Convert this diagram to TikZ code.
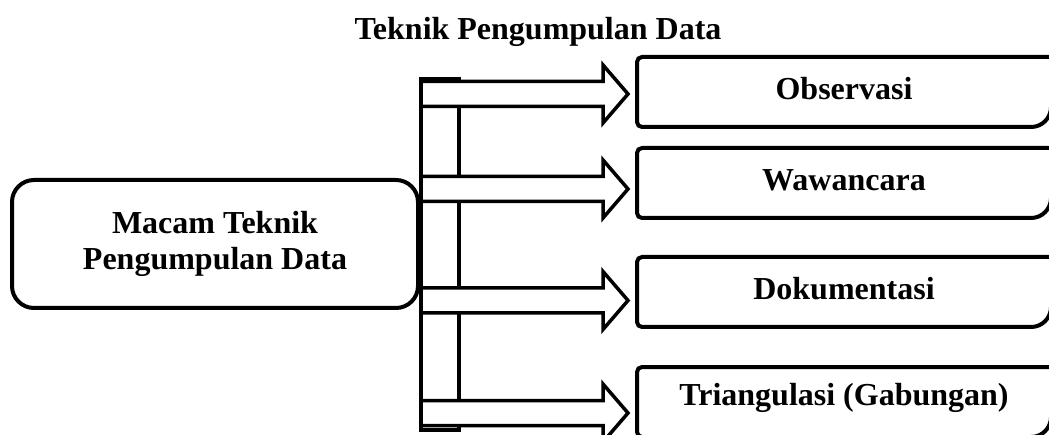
\documentclass[tikz,border=0pt]{standalone}
\usepackage{fontspec}
\setmainfont{Liberation Serif}
\begin{document}
\begin{tikzpicture}[x=1pt, y=-1pt,
  every node/.style={font=\fontsize{32}{36}\selectfont\bfseries},
  frame/.style={line width=4pt},
  srcbox/.style={draw, line width=4pt, rounded corners=22pt, minimum width=406pt,
    minimum height=128pt, inner sep=0pt, outer sep=0pt, align=center},
  spine/.style={draw, line width=4pt, anchor=north west, minimum width=38pt,
    minimum height=351pt, inner sep=0pt, outer sep=0pt},
  item/.style={anchor=north west, minimum width=414pt, minimum height=70pt,
    inner sep=0pt, outer sep=0pt, text height=22pt, text depth=7pt},
  blockarrow/.style={draw, line width=3.5pt, fill=white, line join=miter}]

\useasboundingbox (0,0) rectangle (1049,435);
\fill[white] (0,0) rectangle (1049,435);
\clip (0,0) rectangle (1049,435);

% heading
\node[anchor=base] (title) at (538,40) {Teknik Pengumpulan Data};

% source box on the left
\node[srcbox] (src) at (215,244) {Macam Teknik\\Pengumpulan Data};

% vertical bar the block arrows branch from
\node[spine] (bar) at (421,79) {};

% target boxes (they run past the right edge)
\node[item] (b1) at (637,57)  {Observasi};
\node[item] (b2) at (637,148) {Wawancara};
\node[item] (b3) at (637,257) {Dokumentasi};
\node[item, text depth=16pt] (b4) at (637,367) {Triangulasi (Gabungan)};

\foreach \b in {b1,b2,b3,b4}{
  \draw[frame, rounded corners=5pt] (\b.north east) -- (\b.north west)
    -- (\b.south west) -- (\b.south);
  \draw[frame, rounded corners=20pt] (\b.south) -- (\b.south east) -- (\b.north east);
}

% arrow tips in front of each box
\coordinate (t1) at (628,94);
\coordinate (t2) at (628,189);
\coordinate (t3) at (628,300.5);
\coordinate (t4) at (628,413);

% block arrows from the bar to the boxes
\foreach \t in {t1,t2,t3,t4}{
  \draw[blockarrow] (\t) -- ++(-25,-29) -- ++(0,16.5) -- ++(-182,0) -- ++(0,25)
    -- ++(182,0) -- ++(0,16.5) -- cycle;
}
\end{tikzpicture}
\end{document}
